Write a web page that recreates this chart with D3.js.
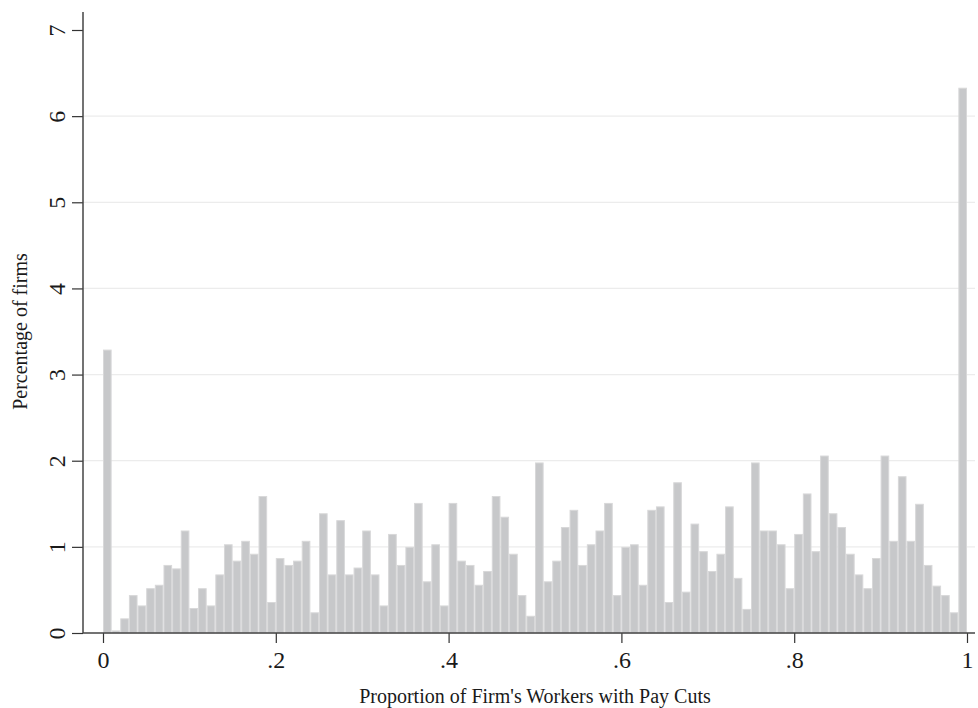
<!DOCTYPE html>
<html>
<head>
<meta charset="utf-8">
<script src="https://cdn.jsdelivr.net/npm/d3@7"></script>
<style>
  body { margin: 0; background: #fff; }
  svg { display: block; }
  text { font-family: "Liberation Serif", "Times New Roman", serif; fill: #1a1a1a; }
</style>
</head>
<body>
<svg id="chart" width="978" height="708"></svg>
<script>
// Percentage of firms per bin of width .01 (bin 0 = [0,.01) ... bin 99 = [.99,1])
const pctFirms = [
  3.29, 0.03, 0.17, 0.44, 0.32, 0.52, 0.56, 0.79, 0.75, 1.19,
  0.29, 0.52, 0.32, 0.68, 1.03, 0.84, 1.07, 0.92, 1.59, 0.36,
  0.87, 0.79, 0.84, 1.07, 0.24, 1.39, 0.68, 1.31, 0.68, 0.76,
  1.19, 0.68, 0.32, 1.15, 0.79, 1.00, 1.51, 0.60, 1.03, 0.32,
  1.51, 0.84, 0.79, 0.56, 0.72, 1.59, 1.35, 0.92, 0.44, 0.20,
  1.98, 0.60, 0.84, 1.23, 1.43, 0.79, 1.03, 1.19, 1.51, 0.44,
  1.00, 1.03, 0.56, 1.43, 1.47, 0.36, 1.75, 0.48, 1.27, 0.95,
  0.72, 0.92, 1.47, 0.64, 0.28, 1.98, 1.19, 1.19, 1.03, 0.52,
  1.15, 1.62, 0.95, 2.06, 1.39, 1.23, 0.92, 0.68, 0.52, 0.87,
  2.06, 1.07, 1.82, 1.07, 1.50, 0.79, 0.55, 0.44, 0.24, 6.33
];
const binWidth = 0.01;
const binStarts = d3.range(pctFirms.length).map(i => i * binWidth);

const xTicks = [0, 0.2, 0.4, 0.6, 0.8, 1];
const xTickLabels = ["0", ".2", ".4", ".6", ".8", "1"];
const yTicks = [0, 1, 2, 3, 4, 5, 6, 7];
const yGrid = [1, 2, 3, 4, 5, 6];

const xTitle = "Proportion of Firm's Workers with Pay Cuts";
const yTitle = "Percentage of firms";

const svg = d3.select("#chart");

const x = d3.scaleLinear().domain([0, 1]).range([103, 967]);
const y = d3.scaleLinear().domain([0, 7]).range([633, 30]);

const axisLeftX = 83;
const axisRightX = 975;

// gridlines
svg.append("g")
  .selectAll("line")
  .data(yGrid)
  .join("line")
  .attr("x1", axisLeftX)
  .attr("x2", axisRightX)
  .attr("y1", d => y(d))
  .attr("y2", d => y(d))
  .attr("stroke", "#ececec")
  .attr("stroke-width", 1.3);

// bars
svg.append("g")
  .selectAll("rect")
  .data(pctFirms)
  .join("rect")
  .attr("x", (d, i) => x(binStarts[i]) + 0.5)
  .attr("width", x(binWidth) - x(0) - 1)
  .attr("y", d => y(d) + 0.5)
  .attr("height", d => Math.max(0, y(0) - y(d) - 0.5))
  .attr("fill", "#c7c8ca")
  .attr("stroke", "#d8d8d9")
  .attr("stroke-width", 1);

// x axis
const xAxis = svg.append("g")
  .attr("transform", `translate(0,${y(0)})`)
  .call(d3.axisBottom(x)
    .tickValues(xTicks)
    .tickFormat((d, i) => xTickLabels[i])
    .tickSize(10));
xAxis.select(".domain").remove();
xAxis.selectAll(".tick line").attr("stroke", "#333").attr("stroke-width", 1.2);
xAxis.selectAll(".tick text")
  .attr("font-size", 24)
  .attr("font-family", "Liberation Serif, serif")
  .attr("fill", "#1a1a1a")
  .attr("y", 35)
  .attr("dy", 0);

svg.append("line")
  .attr("x1", axisLeftX).attr("x2", axisRightX)
  .attr("y1", y(0)).attr("y2", y(0))
  .attr("stroke", "#444").attr("stroke-width", 1.5);

// y axis
const yAxis = svg.append("g")
  .attr("transform", `translate(${axisLeftX},0)`)
  .call(d3.axisLeft(y)
    .tickValues(yTicks)
    .tickFormat(d3.format("d"))
    .tickSize(11));
yAxis.select(".domain").remove();
yAxis.selectAll(".tick line").attr("stroke", "#333").attr("stroke-width", 1.2);
yAxis.selectAll(".tick text")
  .attr("font-size", 24)
  .attr("font-family", "Liberation Serif, serif")
  .attr("fill", "#1a1a1a")
  .attr("text-anchor", "middle")
  .attr("x", 0)
  .attr("dy", 0)
  .attr("transform", `translate(${65 - axisLeftX},0) rotate(-90)`);

svg.append("line")
  .attr("x1", axisLeftX).attr("x2", axisLeftX)
  .attr("y1", 12).attr("y2", y(0))
  .attr("stroke", "#444").attr("stroke-width", 1.5);

// titles
svg.append("text")
  .attr("x", (x(0) + x(1)) / 2)
  .attr("y", 703)
  .attr("text-anchor", "middle")
  .attr("font-size", 20)
  .text(xTitle);

svg.append("text")
  .attr("transform", `translate(27,${(y(0) + y(7)) / 2}) rotate(-90)`)
  .attr("text-anchor", "middle")
  .attr("font-size", 20)
  .text(yTitle);
</script>
</body>
</html>
